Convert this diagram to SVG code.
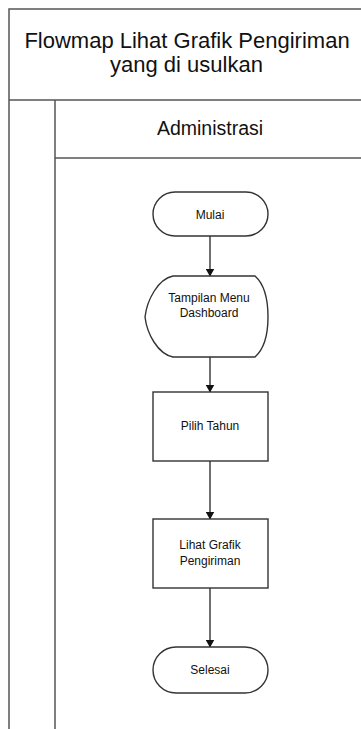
<svg xmlns="http://www.w3.org/2000/svg" width="361" height="729" viewBox="0 0 361 729">
<defs>
<style>
.pool{fill:none;stroke:#555;stroke-width:1.5}
.node{fill:#fff;stroke:#333;stroke-width:1.4}
.lbl{font-family:"Liberation Sans",Arial,sans-serif;font-size:12px;fill:#111;text-anchor:middle}
.edge{fill:none;stroke:#222;stroke-width:1.3}
.hdr{font-family:"Liberation Sans",Arial,sans-serif;fill:#111;text-anchor:middle}
</style>
<marker id="arr" markerWidth="8" markerHeight="9" refX="7.5" refY="4.5" orient="auto" markerUnits="userSpaceOnUse">
<path d="M0,0 L8,4.5 L0,9 Z" fill="#111"/>
</marker>
</defs>
<rect width="361" height="729" fill="#fff"/>
<g id="pool">
<path class="pool" d="M9,729 L9,9 L365,9 M9,100 L365,100 M55,100 L55,729 M55,158 L365,158"/>
<text class="hdr" x="187" y="48" font-size="22">Flowmap Lihat Grafik Pengiriman</text>
<text class="hdr" x="186.5" y="72" font-size="22">yang di usulkan</text>
</g>
<g id="lane-administrasi">
<text class="hdr" x="210" y="135" font-size="19.5">Administrasi</text>
</g>
<g id="connectors">
<path class="edge" d="M210,236 L210,276" marker-end="url(#arr)"/>
<path class="edge" d="M210,357 L210,392" marker-end="url(#arr)"/>
<path class="edge" d="M210,461 L210,519" marker-end="url(#arr)"/>
<path class="edge" d="M210,588 L210,647" marker-end="url(#arr)"/>
</g>
<g id="mulai">
<rect class="node" x="153" y="192" width="115" height="44" rx="22" ry="22"/>
<text class="lbl" x="210" y="219">Mulai</text>
</g>
<g id="tampilan-menu">
<path class="node" d="M173,276 L255,276 C264,284 268,300 268,317 C268,334 264,349 255,357 L173,357 C158,354 147,334 145,317 C147,300 158,279 173,276 Z"/>
<text class="lbl" x="209" y="302">Tampilan Menu</text>
<text class="lbl" x="209" y="316.5">Dashboard</text>
</g>
<g id="pilih-tahun">
<rect class="node" x="153" y="392" width="115" height="69"/>
<text class="lbl" x="210" y="430">Pilih Tahun</text>
</g>
<g id="lihat-grafik">
<rect class="node" x="153" y="519" width="115" height="69"/>
<text class="lbl" x="210" y="548.5">Lihat Grafik</text>
<text class="lbl" x="210" y="565">Pengiriman</text>
</g>
<g id="selesai">
<rect class="node" x="153" y="647" width="115" height="46" rx="23" ry="23"/>
<text class="lbl" x="210" y="674">Selesai</text>
</g>
</svg>
